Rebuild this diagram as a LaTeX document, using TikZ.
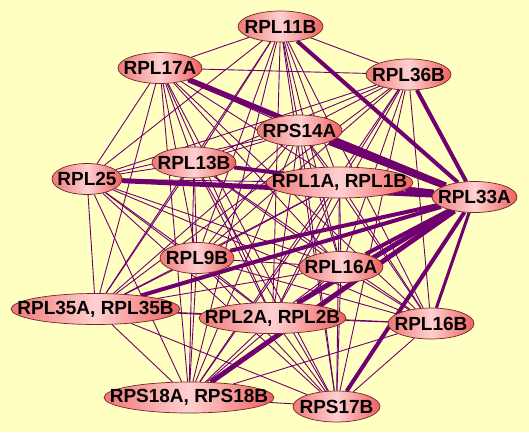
\documentclass[tikz,border=0pt]{standalone}
\usepackage{fontspec}
\setmainfont{Liberation Sans}
\usetikzlibrary{shapes.geometric}
\pgfdeclarelayer{back}
\pgfdeclarelayer{bg}
\pgfsetlayers{back,bg,main}
\definecolor{bgc}{RGB}{255,255,194}
\definecolor{edc}{RGB}{112,0,112}
\definecolor{nl}{RGB}{240,120,120}
\definecolor{nm}{RGB}{255,208,208}
\definecolor{nr}{RGB}{240,96,96}
\definecolor{nb}{RGB}{110,40,40}
\begin{document}
\begin{tikzpicture}[x=1pt,y=-1pt,
  gene/.style={ellipse, draw=nb, line width=0.7pt, left color=nl, right color=nr, middle color=nm,
    minimum height=31pt, inner sep=0pt, font=\fontsize{19}{19}\selectfont\bfseries},
  lnk/.style={draw=edc, line width=0.9pt},
  hvy/.style={draw=edc, line width=#1}]
\begin{pgfonlayer}{back}
\fill[bgc] (0,0) rectangle (529,432);
\end{pgfonlayer}
\useasboundingbox (0,0) rectangle (529,432);
\node[gene, minimum width=85pt] (n1) at (280.5,26.5) {\makebox[0pt]{RPL11B}};
\node[gene, minimum width=84pt] (n2) at (160,68) {\makebox[0pt]{RPL17A}};
\node[gene, minimum width=85pt] (n3) at (408.5,74.5) {\makebox[0pt]{RPL36B}};
\node[gene, minimum width=85pt] (n4) at (299.5,130.5) {\makebox[0pt]{RPS14A}};
\node[gene, minimum width=84pt] (n5) at (194,162.5) {\makebox[0pt]{RPL13B}};
\node[gene, minimum width=70pt] (n6) at (87,179) {\makebox[0pt]{RPL25}};
\node[gene, minimum width=147pt] (n7) at (339.5,182.5) {\makebox[0pt]{RPL1A, RPL1B}};
\node[gene, minimum width=85pt] (n8) at (474.5,197) {\makebox[0pt]{RPL33A}};
\node[gene, minimum width=74pt] (n9) at (197,258) {\makebox[0pt]{RPL9B}};
\node[gene, minimum width=84pt] (n10) at (341,267) {\makebox[0pt]{RPL16A}};
\node[gene, minimum width=169pt] (n11) at (95.5,309) {\makebox[0pt]{RPL35A, RPL35B}};
\node[gene, minimum width=147pt] (n12) at (272.5,318) {\makebox[0pt]{RPL2A, RPL2B}};
\node[gene, minimum width=86pt] (n13) at (431,323.5) {\makebox[0pt]{RPL16B}};
\node[gene, minimum width=170pt] (n14) at (189,397.5) {\makebox[0pt]{RPS18A, RPS18B}};
\node[gene, minimum width=87pt] (n15) at (336.5,406.5) {\makebox[0pt]{RPS17B}};
\begin{pgfonlayer}{bg}
\foreach \i in {1,...,15} {
  \foreach \j in {\i,...,15} {
    \ifnum\j>\i \draw[lnk] (n\i) -- (n\j); \fi
  }
}
\foreach \k/\w in {1/4pt,2/5.5pt,3/4pt,4/6.5pt,5/4pt,6/5pt,7/6pt,9/4pt,10/4pt,11/4pt,12/5pt,13/3pt,14/5pt,15/4pt} {
  \draw[hvy=\w] (n\k) -- (n8);
}
\end{pgfonlayer}
\end{tikzpicture}
\end{document}
